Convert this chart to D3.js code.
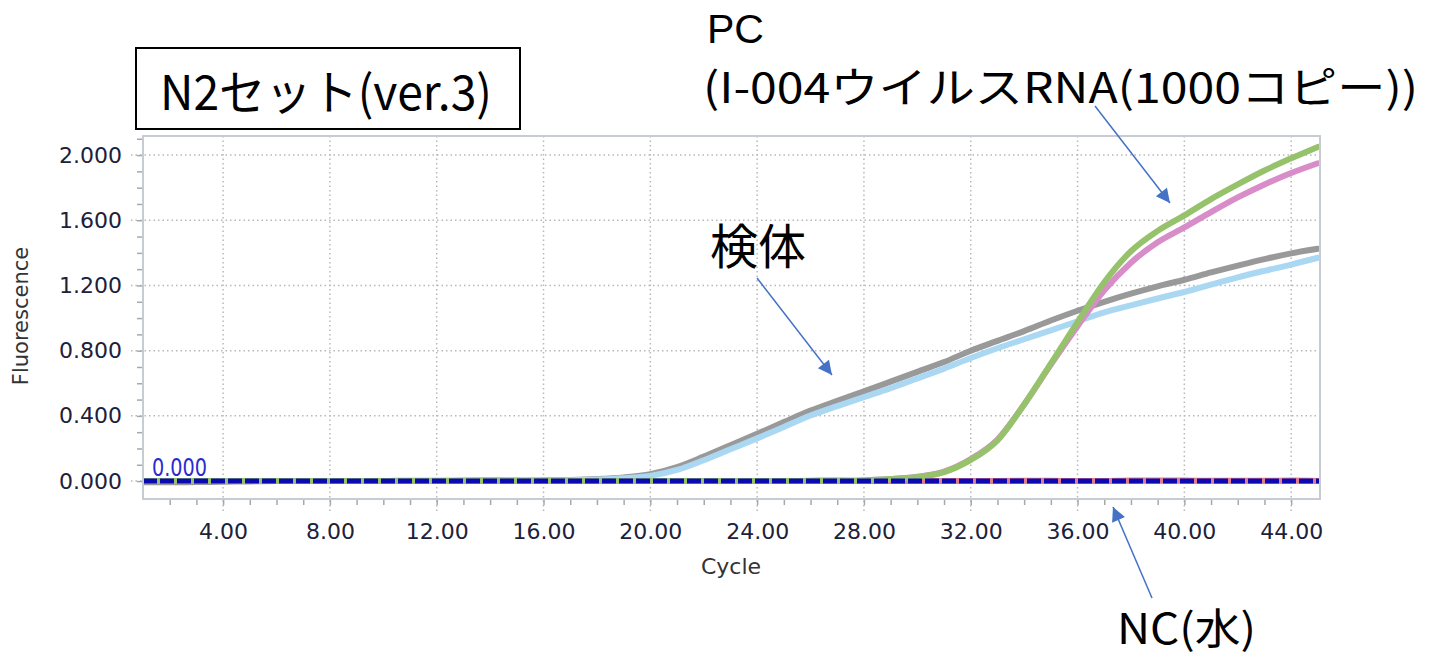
<!DOCTYPE html>
<html>
<head>
<meta charset="utf-8">
<script src="https://cdn.jsdelivr.net/npm/d3@7"></script>
<style>
  html, body { margin: 0; padding: 0; background: #ffffff; }
  svg { display: block; }
</style>
</head>
<body>
<svg id="chart" width="1437" height="657"></svg>
<script>
// Amplification cycles (x axis)
const cycles = [1,2,3,4,5,6,7,8,9,10,11,12,13,14,15,16,17,18,19,20,21,22,23,24,25,26,27,28,29,30,31,32,33,34,35,36,37,38,39,40,41,42,43,44,45];

// 検体 (specimen) curves
const specimenA = [-0.008,-0.008,-0.006,-0.004,-0.002,0.000,0.000,0.001,0.001,0.001,0.002,0.002,0.003,0.004,0.004,0.005,0.007,0.012,0.022,0.042,0.085,0.150,0.220,0.290,0.362,0.432,0.492,0.550,0.610,0.670,0.730,0.800,0.860,0.920,0.985,1.045,1.100,1.150,1.195,1.235,1.280,1.322,1.362,1.397,1.425];
const specimenB = [0.000,0.000,0.000,0.000,0.000,0.000,0.000,0.000,0.001,0.001,0.001,0.001,0.002,0.002,0.003,0.003,0.005,0.009,0.017,0.032,0.068,0.128,0.195,0.262,0.332,0.402,0.460,0.515,0.570,0.630,0.690,0.755,0.815,0.870,0.925,0.980,1.035,1.078,1.120,1.160,1.205,1.250,1.290,1.328,1.370];

// PC (I-004 virus RNA, 1000 copies) curves
const pcA = [0.000,0.000,0.000,0.000,0.000,0.000,0.000,0.000,0.000,0.000,0.000,0.000,0.000,0.000,0.000,0.000,0.000,0.000,0.000,0.000,0.000,0.000,0.000,0.000,0.000,0.001,0.002,0.004,0.012,0.025,0.055,0.130,0.250,0.470,0.720,0.975,1.220,1.410,1.535,1.630,1.730,1.820,1.905,1.980,2.050];
const pcB = [0.000,0.000,0.000,0.000,0.000,0.000,0.000,0.000,0.000,0.000,0.000,0.000,0.000,0.000,0.000,0.000,0.000,0.000,0.000,0.000,0.000,0.000,0.000,0.000,0.000,0.001,0.002,0.004,0.012,0.026,0.058,0.135,0.255,0.470,0.715,0.950,1.170,1.340,1.465,1.556,1.650,1.740,1.820,1.890,1.950];

// NC (water) curves
const ncA = [0.000,0.000,0.000,0.000,0.000,0.000,0.000,0.000,0.000,0.000,0.000,0.000,0.001,0.003,0.002,0.000,0.000,0.000,0.003,0.001,0.000,0.000,0.000,0.000,0.000,0.002,0.002,0.000,0.000,0.000,0.000,0.000,0.001,0.002,0.002,0.000,0.000,0.003,0.003,0.003,0.002,0.002,0.002,0.003,0.001];
const ncB = [0.000,0.000,0.000,0.000,0.000,0.000,0.000,0.000,0.000,0.000,0.000,0.000,0.000,0.000,0.000,0.000,0.000,0.000,0.000,0.000,0.000,0.000,0.000,0.000,0.000,0.000,0.000,0.000,0.000,0.000,0.000,0.000,0.000,0.000,0.000,0.000,0.000,0.000,0.000,0.000,0.000,0.000,0.000,0.000,0.000];

// Axis ticks and threshold
const xTickValues = [4,8,12,16,20,24,28,32,36,40,44];
const yTickValues = [0,0.4,0.8,1.2,1.6,2.0];
const yMinorValues = [0,0.1,0.2,0.3,0.4,0.5,0.6,0.7,0.8,0.9,1.0,1.1,1.2,1.3,1.4,1.5,1.6,1.7,1.8,1.9,2.0,2.1];
const threshold = 0.000;

const series = [
  { name: "NC-b", values: ncB, color: "#b9c9e4" },
  { name: "NC-a", values: ncA, color: "#e07c8c" },
  { name: "検体-a", values: specimenA, color: "#999999" },
  { name: "検体-b", values: specimenB, color: "#aad8f2" },
  { name: "PC-b", values: pcB, color: "#d88cc8" },
  { name: "PC-a", values: pcA, color: "#96c26c" }
];

const svg = d3.select("#chart");
const plot = { left: 143, right: 1320, top: 136, bottom: 499 };

const x = d3.scaleLinear().domain([1, 45.08]).range([plot.left, plot.right]);
const y = d3.scaleLinear().domain([-0.11, 2.117]).range([plot.bottom, plot.top]);

const tickFont = "'DejaVu Sans', Verdana, sans-serif";
const jpFont = "'Noto Sans CJK JP', 'Noto Sans', sans-serif";
const latinFont = "'Liberation Sans', 'Noto Sans CJK JP', sans-serif";

// Grid lines (dotted), extending slightly past the frame
const grid = svg.append("g").attr("class", "grid");
grid.selectAll("line.v").data(xTickValues).join("line")
  .attr("x1", d => x(d)).attr("x2", d => x(d))
  .attr("y1", plot.top).attr("y2", plot.bottom + 12)
  .attr("stroke", "#b8b8b8").attr("stroke-width", 1.5).attr("stroke-dasharray", "1.5,3");
grid.selectAll("line.h").data(yTickValues).join("line")
  .attr("x1", plot.left - 12).attr("x2", plot.right)
  .attr("y1", d => y(d)).attr("y2", d => y(d))
  .attr("stroke", "#b8b8b8").attr("stroke-width", 1.5).attr("stroke-dasharray", "1.5,3");

// Minor ticks
const xMinor = d3.axisBottom(x).tickValues(cycles.filter(c => c > 1 && c < 45)).tickSize(6).tickFormat("");
const xMinorG = svg.append("g").attr("transform", `translate(0,${plot.bottom})`).call(xMinor);
xMinorG.select(".domain").remove();
xMinorG.selectAll("line").attr("stroke", "#a8a8a8").attr("stroke-width", 1.5);

const yMinor = d3.axisLeft(y).tickValues(yMinorValues).tickSize(6).tickFormat("");
const yMinorG = svg.append("g").attr("transform", `translate(${plot.left},0)`).call(yMinor);
yMinorG.select(".domain").remove();
yMinorG.selectAll("line").attr("stroke", "#a8a8a8").attr("stroke-width", 1.5);

// Major tick labels
const xAxis = d3.axisBottom(x).tickValues(xTickValues).tickSize(0).tickPadding(24).tickFormat(d3.format(".2f"));
const xAxisG = svg.append("g").attr("transform", `translate(0,${plot.bottom})`).call(xAxis);
xAxisG.select(".domain").remove();
xAxisG.selectAll("text").attr("font-family", tickFont).attr("font-size", 22).attr("fill", "#20203a");

const yAxis = d3.axisLeft(y).tickValues(yTickValues).tickSize(0).tickPadding(21).tickFormat(d3.format(".3f"));
const yAxisG = svg.append("g").attr("transform", `translate(${plot.left},0)`).call(yAxis);
yAxisG.select(".domain").remove();
yAxisG.selectAll("text").attr("font-family", tickFont).attr("font-size", 22).attr("fill", "#20203a");

// Axis titles
svg.append("text").attr("x", 731).attr("y", 574).attr("text-anchor", "middle")
  .attr("font-family", tickFont).attr("font-size", 22).attr("fill", "#333").text("Cycle");
svg.append("text").attr("transform", "translate(28,316) rotate(-90)").attr("text-anchor", "middle")
  .attr("font-family", tickFont).attr("font-size", 21).attr("fill", "#333").text("Fluorescence");

// Curves
const line = d3.line()
  .x((d, i) => x(cycles[i]))
  .y(d => y(d))
  .curve(d3.curveMonotoneX);

svg.append("clipPath").attr("id", "plot-clip").append("rect")
  .attr("x", plot.left).attr("y", plot.top)
  .attr("width", plot.right - plot.left).attr("height", plot.bottom - plot.top);

const curves = svg.append("g").attr("clip-path", "url(#plot-clip)");
curves.selectAll("path").data(series).join("path")
  .attr("d", d => line(d.values))
  .attr("fill", "none")
  .attr("stroke", d => d.color)
  .attr("stroke-width", 6)
  .attr("stroke-linejoin", "round")
  .attr("stroke-linecap", "round");

// Threshold line and its label
curves.append("line")
  .attr("x1", plot.left).attr("x2", plot.right)
  .attr("y1", y(threshold)).attr("y2", y(threshold))
  .attr("stroke", "#0a0ab0").attr("stroke-width", 5).attr("stroke-dasharray", "14,3");
svg.append("text").attr("x", 152).attr("y", y(threshold) - 5)
  .attr("font-family", tickFont).attr("font-size", 24).attr("fill", "#2a2ad0")
  .attr("textLength", 55).attr("lengthAdjust", "spacingAndGlyphs")
  .text(d3.format(".3f")(threshold));

// Plot frame
svg.append("rect")
  .attr("x", plot.left).attr("y", plot.top)
  .attr("width", plot.right - plot.left).attr("height", plot.bottom - plot.top)
  .attr("fill", "none").attr("stroke", "#c6cbd4").attr("stroke-width", 2);

// Title box
svg.append("rect").attr("x", 136).attr("y", 48).attr("width", 384).attr("height", 81)
  .attr("fill", "#fff").attr("stroke", "#000").attr("stroke-width", 2);
svg.append("text").attr("x", 160).attr("y", 110)
  .attr("font-family", jpFont).attr("font-size", 48).attr("fill", "#000")
  .attr("textLength", 332).attr("lengthAdjust", "spacingAndGlyphs")
  .text("N2セット(ver.3)");

// Annotations
const notes = [
  { text: "PC", x: 707, y: 43, size: 41, font: latinFont },
  { text: "(I-004ウイルスRNA(1000コピー))", x: 703, y: 103, size: 42, len: 715, font: jpFont },
  { text: "検体", x: 710, y: 264, size: 48, font: jpFont },
  { text: "NC(水)", x: 1117, y: 644, size: 42, len: 139, font: jpFont }
];
const noteText = svg.selectAll("text.note").data(notes).join("text").attr("class", "note")
  .attr("x", d => d.x).attr("y", d => d.y)
  .attr("font-family", d => d.font).attr("font-size", d => d.size).attr("fill", "#000")
  .text(d => d.text);
noteText.filter(d => d.len)
  .attr("textLength", d => d.len).attr("lengthAdjust", "spacingAndGlyphs");

// Arrows pointing at the curve groups
const defs = svg.append("defs");
defs.append("marker").attr("id", "arrowhead")
  .attr("viewBox", "0 0 10 10").attr("refX", 10).attr("refY", 5)
  .attr("markerWidth", 16).attr("markerHeight", 14)
  .attr("markerUnits", "userSpaceOnUse")
  .attr("orient", "auto")
  .append("path").attr("d", "M0,0 L10,5 L0,10 Z").attr("fill", "#4472c4");

const arrows = [
  { x1: 1095, y1: 106, x2: 1170, y2: 203 },
  { x1: 757, y1: 278, x2: 832, y2: 375 },
  { x1: 1152, y1: 598, x2: 1113, y2: 507 }
];
svg.selectAll("line.arrow").data(arrows).join("line").attr("class", "arrow")
  .attr("x1", d => d.x1).attr("y1", d => d.y1)
  .attr("x2", d => d.x2).attr("y2", d => d.y2)
  .attr("stroke", "#4472c4").attr("stroke-width", 1.5)
  .attr("marker-end", "url(#arrowhead)");
</script>
</body>
</html>
